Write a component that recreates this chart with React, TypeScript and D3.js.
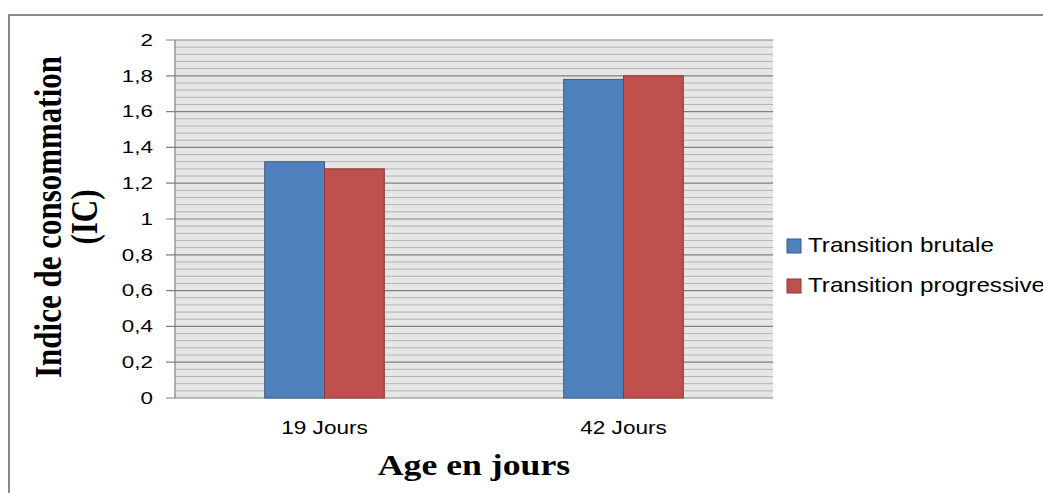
import React from "react";
import * as d3 from "d3";

const categories = ["19 Jours", "42 Jours"];
const seriesNames = ["Transition brutale", "Transition progressive"];
const brutale = [1.32, 1.78];
const progressive = [1.28, 1.8];
const yTicks = [0, 0.2, 0.4, 0.6, 0.8, 1, 1.2, 1.4, 1.6, 1.8, 2];

const colors = ["#4f81bd", "#c0504d"];
const strokes = ["#385d8a", "#8c3836"];

const W = 1043, H = 493;
const left = 175, right = 773, top = 40, bottom = 398;

export default function App() {
  const x = d3.scaleBand<string>().domain(categories).range([left, right]);
  const inner = d3
    .scaleBand<number>()
    .domain([0, 1])
    .range([x.bandwidth() * 0.3, x.bandwidth() * 0.7]);
  const y = d3.scaleLinear().domain([0, 2]).range([bottom, top]);
  const minor = d3.range(0, 2.001, 0.04).filter((v) => Math.abs(v / 0.2 - Math.round(v / 0.2)) > 0.01);
  const fmt = (v: number) => String(+v.toFixed(1)).replace(".", ",");
  const series = [brutale, progressive];

  return (
    <svg width={W} height={H} style={{ position: "absolute", left: 0, top: 0 }}>
      <rect x={0} y={0} width={W} height={H} fill="#fff" />
      <rect x={9} y={15} width={W + 20} height={H + 20} fill="none" stroke="#888" strokeWidth={2} />

      <rect x={left} y={top} width={right - left} height={bottom - top} fill="#e6e6e6" />
      {minor.map((v, i) => (
        <line key={"m" + i} x1={left} x2={right} y1={y(v)} y2={y(v)} stroke="#b4b4b4" strokeWidth={1} />
      ))}
      {yTicks.map((v, i) => (
        <g key={"t" + i}>
          <line x1={166} x2={right} y1={y(v)} y2={y(v)} stroke="#808080" strokeWidth={1.2} />
          <text
            transform={`translate(153,${y(v)}) scale(1.4,1)`}
            textAnchor="end"
            dy="0.36em"
            fontFamily="Liberation Sans, Arial, sans-serif"
            fontSize={16}
            fill="#000"
          >
            {fmt(v)}
          </text>
        </g>
      ))}
      <line x1={left} x2={left} y1={top} y2={bottom} stroke="#808080" strokeWidth={1.2} />

      {categories.map((c, ci) => (
        <g key={c}>
          {series.map((s, si) => (
            <rect
              key={si}
              x={(x(c) as number) + (inner(si) as number)}
              y={y(s[ci])}
              width={inner.bandwidth()}
              height={bottom - y(s[ci])}
              fill={colors[si]}
              stroke={strokes[si]}
              strokeWidth={1}
            />
          ))}
          <text
            transform={`translate(${(x(c) as number) + x.bandwidth() / 2},434) scale(1.22,1)`}
            textAnchor="middle"
            fontFamily="Liberation Sans, Arial, sans-serif"
            fontSize={18.5}
            fill="#000"
          >
            {c}
          </text>
        </g>
      ))}

      {seriesNames.map((n, i) => (
        <g key={n} transform={`translate(787,${239 + i * 40})`}>
          <rect x={0} y={0} width={14} height={14} fill={colors[i]} stroke={strokes[i]} strokeWidth={1} />
          <text
            transform="translate(21,13) scale(1.18,1)"
            fontFamily="Liberation Sans, Arial, sans-serif"
            fontSize={20.5}
            fill="#000"
          >
            {n}
          </text>
        </g>
      ))}

      <text
        transform={`translate(${(left + right) / 2},475) scale(1.19,1)`}
        textAnchor="middle"
        fontFamily="Liberation Serif, Times New Roman, serif"
        fontWeight="bold"
        fontSize={30}
        fill="#000"
      >
        Age en jours
      </text>
      <text
        transform="translate(61,217) scale(1.2,1) rotate(-90)"
        textAnchor="middle"
        fontFamily="Liberation Serif, Times New Roman, serif"
        fontWeight="bold"
        fontSize={31}
        fill="#000"
      >
        Indice de consommation
      </text>
      <text
        transform="translate(97,217) scale(1.2,1) rotate(-90)"
        textAnchor="middle"
        fontFamily="Liberation Serif, Times New Roman, serif"
        fontWeight="bold"
        fontSize={31}
        fill="#000"
      >
        (IC)
      </text>
    </svg>
  );
}
